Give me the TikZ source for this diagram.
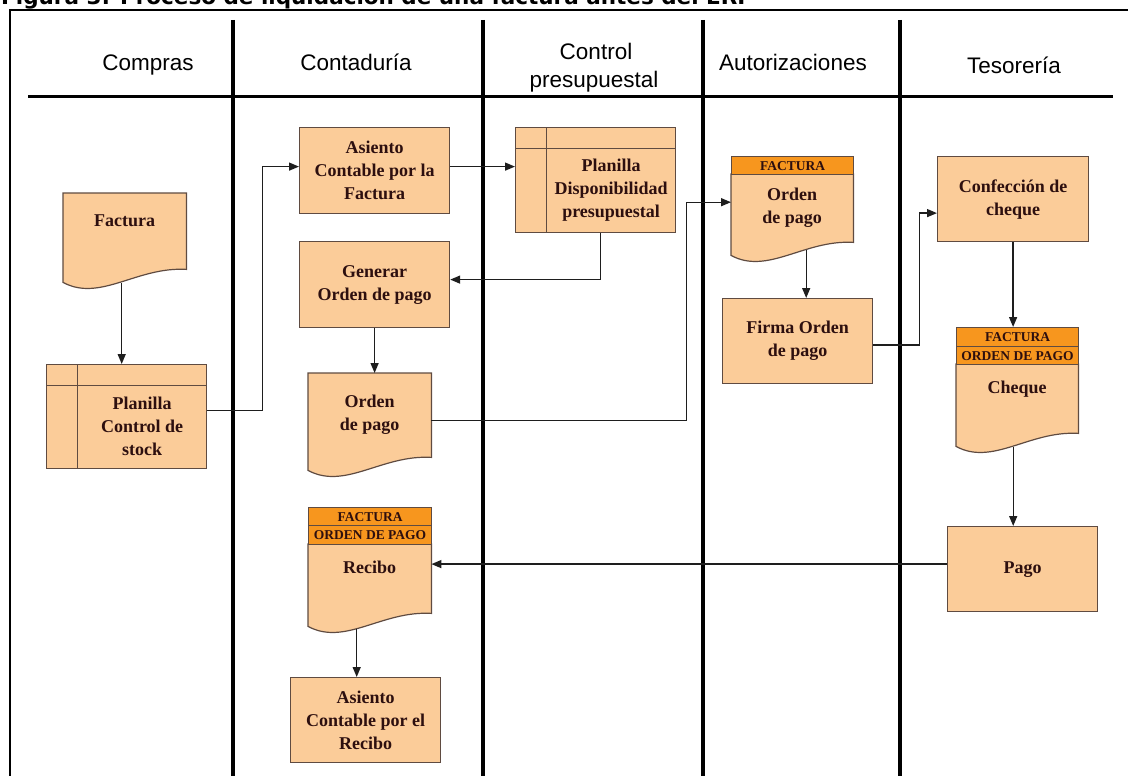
\documentclass[tikz,border=0pt]{standalone}
\usepackage{fontspec}
\setmainfont{Liberation Serif}
\newfontfamily\hdrfont{Liberation Sans}
\newfontfamily\capfont{DejaVu Sans}
\usetikzlibrary{arrows.meta,calc,backgrounds}

\definecolor{boxfill}{RGB}{251,204,153}
\definecolor{tagfill}{RGB}{247,150,30}
\definecolor{boxline}{RGB}{95,75,65}
\definecolor{boxtext}{RGB}{45,15,15}
\definecolor{wirecol}{RGB}{30,30,30}

\tikzset{
  frameline/.style={line width=2.5pt, black},
  laneline/.style={line width=3.5pt, black},
  lanehead/.style={font=\hdrfont\fontsize{22.5}{28}\selectfont, inner sep=0pt, anchor=base, align=center},
  caption/.style={font=\capfont\bfseries\fontsize{21.5}{24}\selectfont, inner sep=0pt, anchor=base west},
  boxtxt/.style={font=\bfseries\fontsize{18}{23}\selectfont, text=boxtext, align=center, inner sep=0pt},
  proc/.style={boxtxt, draw=boxline, fill=boxfill, line width=1.2pt, anchor=north west},
  docbody/.style={boxtxt, draw=none, anchor=north west},
  onelinedoc/.style={text depth=22pt},
  docshape/.style={draw=boxline, fill=boxfill, line width=1.2pt},
  tag/.style={draw=boxline, fill=tagfill, line width=1.2pt, inner sep=0pt, anchor=north west,
    font=\bfseries\fontsize{13.5}{14}\selectfont, text=boxtext},
  planilla/.style={draw=boxline, fill=boxfill, line width=1.2pt, anchor=north west, inner sep=0pt,
    path picture={
      \draw[boxline, line width=1.2pt]
        ([yshift=-20.5pt]path picture bounding box.north west) -- ([yshift=-20.5pt]path picture bounding box.north east)
        ([xshift=31pt]path picture bounding box.north west) -- ([xshift=31pt]path picture bounding box.south west);
    }},
  wire/.style={draw=wirecol, line width=1.4pt, -{Triangle[length=10pt,width=8pt]}},
}

% outline of a document symbol: straight top and sides, wavy bottom edge
\newcommand\docoutline[1]{%
  \path[docshape] (#1.north west) -- (#1.north east) -- (#1.south east)
    .. controls ($(#1.south west)!0.6!(#1.south east)+(0,-3)$)
       and ($(#1.south west)!0.3!(#1.south east)+(0,33)$) ..
    ($(#1.south west)+(0,13)$) -- cycle;}

\begin{document}
\begin{tikzpicture}[x=1pt,y=-1pt]
\useasboundingbox (0,0) rectangle (1128,776);
\clip (0,0) rectangle (1128,776);

% caption above the chart
\node[caption] (cap) at (1,5) {Figura 3: Proceso de liquidación de una factura antes del ERP};

% frame, header rule and swimlane separators
\draw[frameline] (10,800) -- (10,10) -- (1140,10);
\draw[line width=3pt] (28,97) -- (1113,97);
\foreach \x in {233,483,703,900} \draw[laneline] (\x,20) -- (\x,800);

% lane headings
\node[lanehead] (h1) at (148,71) {Compras};
\node[lanehead] (h2) at (356,71) {Contaduría};
\node[lanehead] (h3a) at (596,60) {Control};
\node[lanehead] (h3b) at (594,88) {presupuestal};
\node[lanehead] (h4) at (793,71) {Autorizaciones};
\node[lanehead] (h5) at (1014,74) {Tesorería};

% Compras
\node[docbody, onelinedoc, minimum width=123pt, minimum height=76pt] (fac) at (63,193) {Factura};
\node[planilla, minimum width=160pt, minimum height=104pt] (pcs) at (46,364) {};
\node[boxtxt] (pcs-t) at ($(pcs.center)+(15.5,10)$) {Planilla\\Control de\\stock};

% Contaduría
\node[proc, minimum width=150pt, minimum height=86pt] (asf) at (299,127) {Asiento\\Contable por la\\Factura};
\node[proc, minimum width=150pt, minimum height=86pt] (gen) at (299,241) {Generar\\Orden de pago};
\node[docbody, minimum width=123pt, minimum height=84pt] (ordc) at (308,373) {Orden\\de pago};
\node[tag, minimum width=123pt, minimum height=18pt] (rec-t1) at (308,507) {FACTURA};
\node[tag, minimum width=123pt, minimum height=19pt] (rec-t2) at (308,525) {ORDEN DE PAGO};
\node[docbody, onelinedoc, minimum width=123pt, minimum height=69pt] (rec) at (308,544) {Recibo};
\node[proc, minimum width=150pt, minimum height=85pt] (asr) at (290,677) {Asiento\\Contable por el\\Recibo};

% Control presupuestal
\node[planilla, minimum width=160pt, minimum height=105pt] (pdp) at (515,127) {};
\node[boxtxt] (pdp-t) at ($(pdp.center)+(15.5,10)$) {Planilla\\Disponibilidad\\presupuestal};

% Autorizaciones
\node[tag, minimum width=122pt, minimum height=18pt] (orda-t1) at (731,156) {FACTURA};
\node[docbody, minimum width=122pt, minimum height=68pt] (orda) at (731,174) {Orden\\de pago};
\node[proc, minimum width=150pt, minimum height=85pt] (firma) at (722,298) {Firma Orden\\de pago};

% Tesorería
\node[proc, minimum width=151pt, minimum height=85pt] (conf) at (937,156) {Confección de\\cheque};
\node[tag, minimum width=122pt, minimum height=19pt] (chq-t1) at (956,327) {FACTURA};
\node[tag, minimum width=122pt, minimum height=18pt] (chq-t2) at (956,346) {ORDEN DE PAGO};
\node[docbody, onelinedoc, minimum width=122pt, minimum height=69pt] (chq) at (956,364) {Cheque};
\node[proc, minimum width=150pt, minimum height=85pt] (pago) at (947,526) {Pago};

% document outlines behind their labels
\begin{pgfonlayer}{background}
  \docoutline{fac}
  \docoutline{ordc}
  \docoutline{orda}
  \docoutline{chq}
  \docoutline{rec}
\end{pgfonlayer}

% points where connectors leave their shapes
\coordinate (fac-b) at ($(fac.south)+(-3,14)$);
\coordinate (orda-b) at ($(orda.south)+(14,8)$);
\coordinate (chq-b) at ($(chq.south)+(-4,14)$);
\coordinate (rec-b) at ($(rec.south)+(-13,16)$);
\coordinate (asf-o) at ($(asf.east)+(0,-4)$);
\coordinate (pago-o) at ($(pago.west)+(0,-5)$);

% connectors
\draw[wire] (fac-b) -- (fac-b |- pcs.north);
\draw[wire] ($(pcs.east)+(0,-6)$) -- ++(55,0) |- ($(asf.west)+(0,-4)$);
\draw[wire] (asf-o) -- (asf-o -| pdp.west);
\draw[wire] ($(pdp.south)+(5,0)$) |- ($(gen.east)+(0,-5)$);
\draw[wire] (gen.south) -- (gen.south |- ordc.north);
\draw[wire] ($(ordc.east)+(0,5)$) -- ++(255,0) |- ($(orda.west)+(0,-6)$);
\draw[wire] (orda-b) -- (orda-b |- firma.north);
\draw[wire] ($(firma.east)+(0,4)$) -- ++(46,0) |- ($(conf.west)+(0,14)$);
\draw[wire] (conf.south) -- (conf.south |- chq-t1.north);
\draw[wire] (chq-b) -- (chq-b |- pago.north);
\draw[wire] (pago-o) -- (pago-o -| rec.east);
\draw[wire] (rec-b) -- (rec-b |- asr.north);
\end{tikzpicture}
\end{document}
